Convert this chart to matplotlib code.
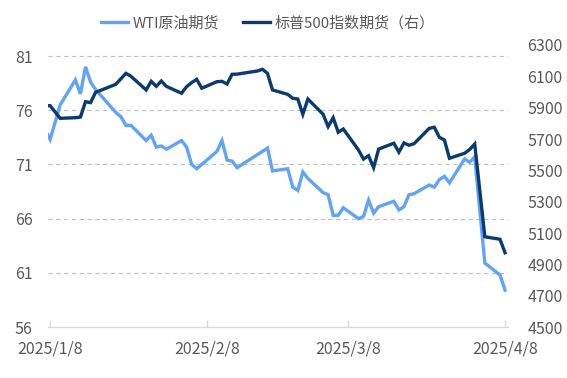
import matplotlib
matplotlib.use('Agg')
import matplotlib.pyplot as plt
import matplotlib.dates as mdates
from matplotlib.ticker import FixedLocator, FuncFormatter
import pandas as pd

plt.rcParams['font.family'] = ['Noto Sans CJK SC', 'DejaVu Sans']

dates = [
    "2025-01-07", "2025-01-08", "2025-01-10", "2025-01-13", "2025-01-14", "2025-01-15",
    "2025-01-16", "2025-01-17", "2025-01-21", "2025-01-22", "2025-01-23", "2025-01-24",
    "2025-01-27", "2025-01-28", "2025-01-29", "2025-01-30", "2025-01-31",
    "2025-02-03", "2025-02-04", "2025-02-05", "2025-02-06", "2025-02-07", "2025-02-10",
    "2025-02-11", "2025-02-12", "2025-02-13", "2025-02-14", "2025-02-18", "2025-02-19",
    "2025-02-20", "2025-02-21", "2025-02-24", "2025-02-25", "2025-02-26", "2025-02-27",
    "2025-02-28",
    "2025-03-03", "2025-03-04", "2025-03-05", "2025-03-06", "2025-03-07", "2025-03-10",
    "2025-03-11", "2025-03-12", "2025-03-13", "2025-03-14", "2025-03-17", "2025-03-18",
    "2025-03-19", "2025-03-20", "2025-03-21", "2025-03-24", "2025-03-25", "2025-03-26",
    "2025-03-27", "2025-03-28", "2025-03-31",
    "2025-04-01", "2025-04-02", "2025-04-04", "2025-04-07", "2025-04-08",
]

wti = [
    74.2, 73.3, 76.5, 78.8, 77.5, 80.0, 78.6, 77.9, 75.8, 75.4, 74.6, 74.6,
    73.2, 73.7, 72.6, 72.7, 72.4,
    73.2, 72.6, 71.0, 70.6, 71.0, 72.2, 73.2, 71.4, 71.3, 70.7, 71.9, 72.2,
    72.5, 70.4, 70.6, 68.9, 68.6, 70.3, 69.7,
    68.4, 68.2, 66.3, 66.3, 67.0, 66.0, 66.2, 67.7, 66.5, 67.1, 67.6, 66.8,
    67.1, 68.2, 68.3, 69.1, 68.9, 69.6, 69.9, 69.3, 71.5,
    71.2, 71.7, 61.9, 60.8, 59.4,
]

spx = [
    5910, 5913, 5832, 5836, 5840, 5938, 5932, 5998, 6049, 6084, 6119, 6100,
    6013, 6068, 6036, 6070, 6036,
    5992, 6034, 6060, 6081, 6024, 6066, 6068, 6051, 6113, 6114, 6134, 6145,
    6119, 6013, 5985, 5960, 5955, 5858, 5955,
    5858, 5779, 5836, 5743, 5764, 5630, 5572, 5593, 5517, 5636, 5673, 5616,
    5675, 5660, 5670, 5768, 5775, 5711, 5694, 5577, 5609,
    5633, 5668, 5076, 5060, 4974,
]

left_ticks = [56, 61, 66, 71, 76, 81]
right_ticks = [4500, 4700, 4900, 5100, 5300, 5500, 5700, 5900, 6100, 6300]
x_ticks = ["2025-01-08", "2025-02-08", "2025-03-08", "2025-04-08"]
labels = ["WTI原油期货", "标普500指数期货（右）"]

c_wti = "#62A3FA"
c_spx = "#0B3A6E"
c_txt = "#595959"

x = pd.to_datetime(dates)

fig = plt.figure(figsize=(5.67, 3.78), dpi=100)
ax = fig.add_axes([48 / 567, 1 - 327 / 378, 460 / 567, 282 / 378])
ax2 = ax.twinx()

l1, = ax.plot(x, wti, color=c_wti, lw=2.4, solid_joinstyle='miter', zorder=3)
l2, = ax2.plot(x, spx, color=c_spx, lw=2.4, solid_joinstyle='miter', zorder=3)

ax.set_xlim(pd.Timestamp("2025-01-07 14:00"), pd.Timestamp("2025-04-08 14:00"))
ax.set_ylim(56, 81 + 11 / 10.84)
ax2.set_ylim(4500, 6300)

ax.yaxis.set_major_locator(FixedLocator(left_ticks))
ax2.yaxis.set_major_locator(FixedLocator(right_ticks))
ax.xaxis.set_major_locator(FixedLocator(mdates.date2num(pd.to_datetime(x_ticks))))
ax.xaxis.set_major_formatter(FuncFormatter(
    lambda v, p: (lambda d: f"{d.year}/{d.month}/{d.day}")(mdates.num2date(v))))

for a in (ax, ax2):
    for s in ("top", "left", "right"):
        a.spines[s].set_visible(False)
ax2.spines["bottom"].set_visible(False)
ax.spines["bottom"].set_color("#d9d9d9")
ax.spines["bottom"].set_linewidth(1.0)

ax.grid(axis='y', color="#c0c0c0", lw=0.8, linestyle=(0, (4, 3)))
ax.set_axisbelow(True)
ax.yaxis.get_gridlines()[0].set_visible(False)

ax.tick_params(axis='y', length=0, pad=11, labelsize=11.5, labelcolor=c_txt)
ax2.tick_params(axis='y', length=0, pad=14, labelsize=11.5, labelcolor=c_txt)
ax.tick_params(axis='x', direction='in', length=5, width=1, color="#d9d9d9",
               pad=10, labelsize=11.5, labelcolor=c_txt)

ax.patch.set_visible(False)

fig.legend([l1, l2], labels, loc='center', bbox_to_anchor=(268 / 567, 1 - 23 / 378),
           ncol=2, frameon=False, fontsize=10.8, handlelength=1.8, handletextpad=0.3,
           columnspacing=1.6, labelcolor=c_txt)

fig.savefig("out.png", dpi=100)
